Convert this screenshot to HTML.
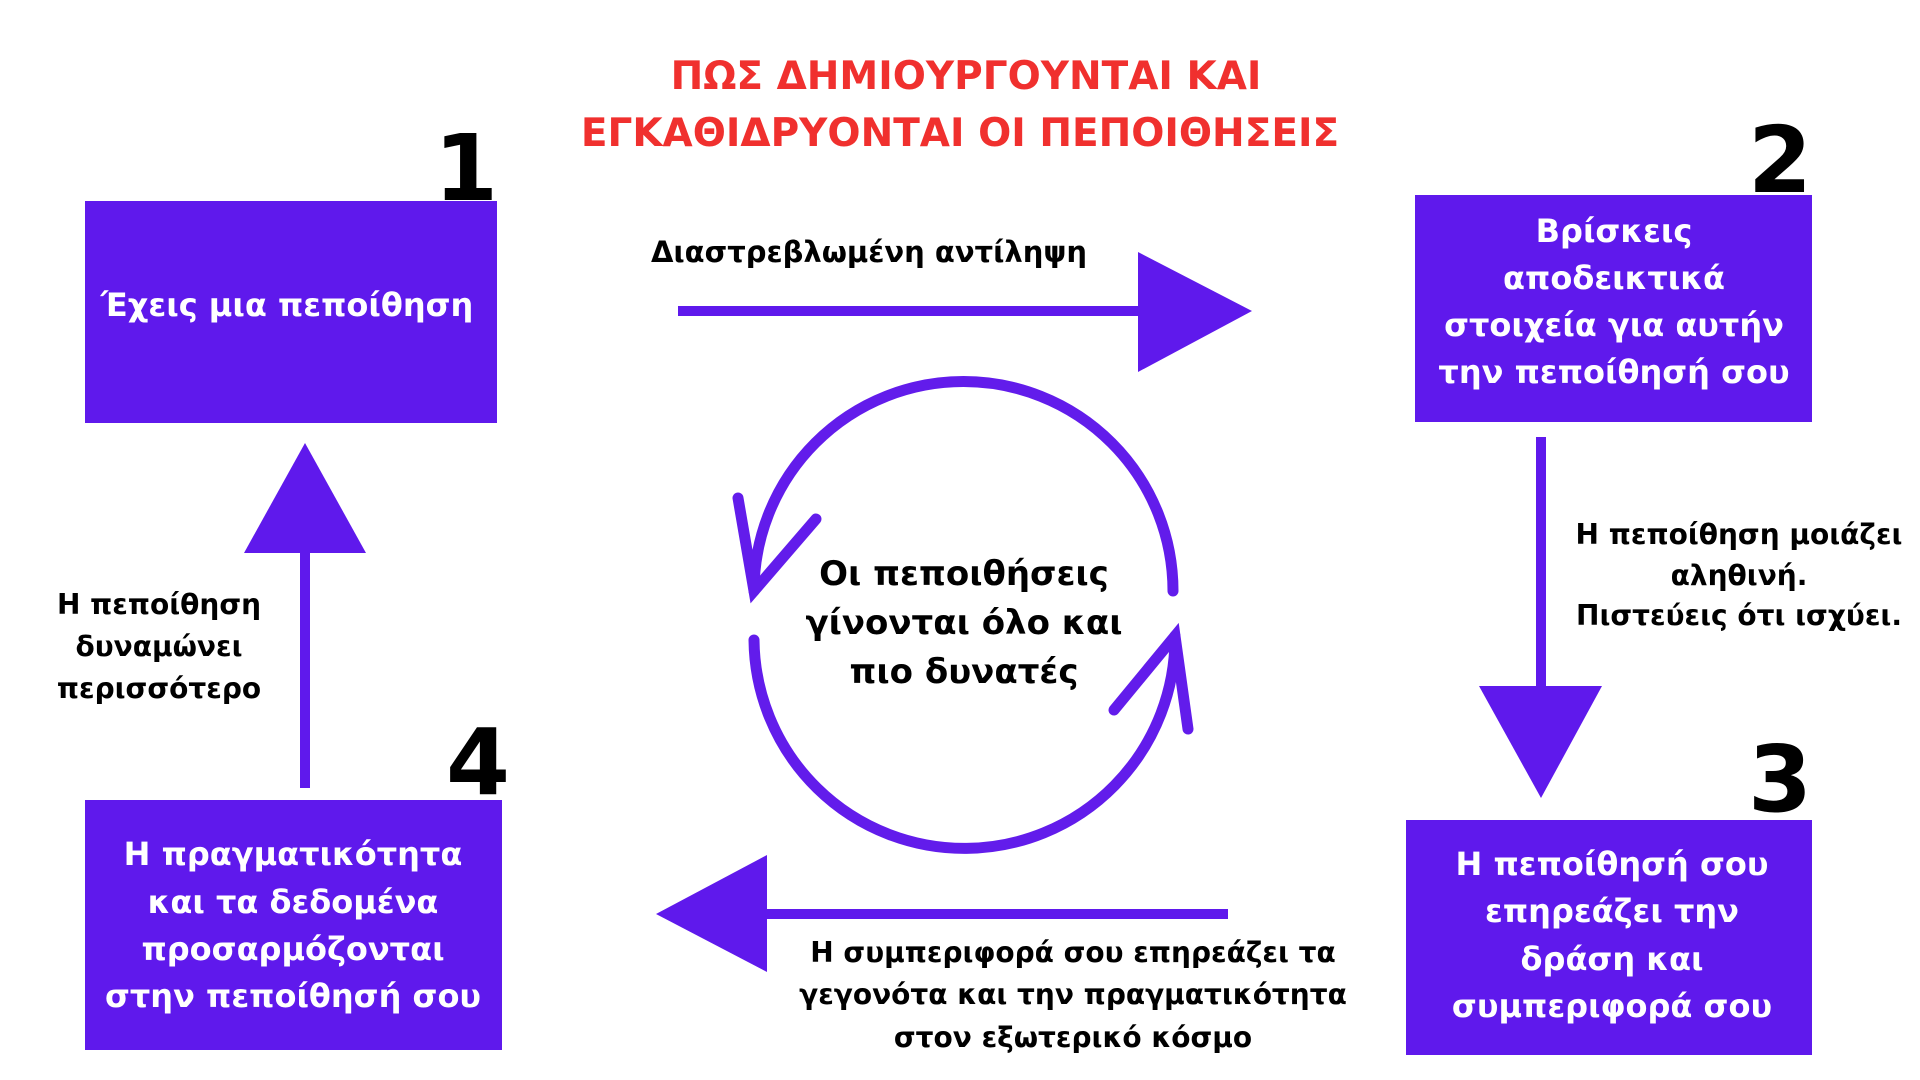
<!DOCTYPE html>
<html><head><meta charset="utf-8"><style>
html,body{margin:0;padding:0;background:#fff;}
svg{display:block;}
text{font-family:"DejaVu Sans","Liberation Sans",sans-serif;font-weight:bold;}
</style></head><body>
<svg width="1920" height="1080" viewBox="0 0 1920 1080" xmlns="http://www.w3.org/2000/svg">
<g fill="#f0302e" font-size="39" text-anchor="middle">
<text x="966" y="89">ΠΩΣ ΔΗΜΙΟΥΡΓΟΥΝΤΑΙ ΚΑΙ</text>
<text x="960" y="146">ΕΓΚΑΘΙΔΡΥΟΝΤΑΙ ΟΙ ΠΕΠΟΙΘΗΣΕΙΣ</text>
</g>
<g fill="#5f19ec">
<rect x="85" y="201" width="412" height="222"/>
<rect x="1415" y="195" width="397" height="227"/>
<rect x="1406" y="820" width="406" height="235"/>
<rect x="85" y="800" width="417" height="250"/>
<rect x="678" y="306" width="460" height="10"/>
<polygon points="1138,252 1252,311 1138,372"/>
<rect x="1536" y="437" width="10" height="250"/>
<polygon points="1479,686 1602,686 1541,798"/>
<rect x="767" y="909" width="461" height="10"/>
<polygon points="767,855 767,972 656,914"/>
<rect x="300" y="553" width="10" height="235"/>
<polygon points="244,553 366,553 305,443"/>
</g>
<g fill="none" stroke="#621ceb" stroke-width="11" stroke-linecap="round">
<path d="M754,591 A209,209 0 0 1 1173,591"/>
<path d="M754,640 A209,209 0 0 0 1175,636"/>
<path d="M738,498 L754,591 L816,519"/>
<path d="M1188,729 L1175,636 L1114,710"/>
</g>
<g fill="#000" font-size="92" text-anchor="end" style="font-family:'Liberation Sans',sans-serif">
<text x="498" y="200">1</text>
<text x="1812" y="192">2</text>
<text x="1812" y="811">3</text>
<text x="510" y="794">4</text>
</g>
<g fill="#fff" font-size="32" text-anchor="middle">
<text x="287" y="316">Έχεις μια πεποίθηση</text>
<text x="1614" y="242">Βρίσκεις</text>
<text x="1614" y="289">αποδεικτικά</text>
<text x="1614" y="336">στοιχεία για αυτήν</text>
<text x="1614" y="383">την πεποίθησή σου</text>
<text x="1612" y="875">Η πεποίθησή σου</text>
<text x="1612" y="922">επηρεάζει την</text>
<text x="1612" y="970">δράση και</text>
<text x="1612" y="1017">συμπεριφορά σου</text>
<text x="293" y="865">Η πραγματικότητα</text>
<text x="293" y="913">και τα δεδομένα</text>
<text x="293" y="960">προσαρμόζονται</text>
<text x="293" y="1007">στην πεποίθησή σου</text>
</g>
<g fill="#000" font-size="34" text-anchor="middle">
<text x="964" y="585">Οι πεποιθήσεις</text>
<text x="964" y="634">γίνονται όλο και</text>
<text x="964" y="683">πιο δυνατές</text>
</g>
<g fill="#000" font-size="28" text-anchor="middle">
<text x="869" y="262" font-size="29">Διαστρεβλωμένη αντίληψη</text>
<text x="1739" y="544">Η πεποίθηση μοιάζει</text>
<text x="1739" y="585">αληθινή.</text>
<text x="1739" y="625">Πιστεύεις ότι ισχύει.</text>
<text x="1073" y="962">Η συμπεριφορά σου επηρεάζει τα</text>
<text x="1073" y="1004">γεγονότα και την πραγματικότητα</text>
<text x="1073" y="1047">στον εξωτερικό κόσμο</text>
<text x="159" y="614">Η πεποίθηση</text>
<text x="159" y="656">δυναμώνει</text>
<text x="159" y="698">περισσότερο</text>
</g>
</svg>
</body></html>
